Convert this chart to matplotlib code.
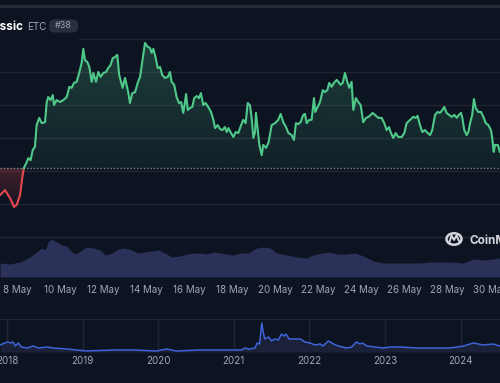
import matplotlib.pyplot as plt
import matplotlib.colors as mcolors
import numpy as np
from matplotlib.patches import PathPatch, Circle, FancyBboxPatch
from matplotlib.path import Path
from matplotlib.lines import Line2D

plt.rcParams['font.family'] = ['Inter', 'DejaVu Sans']

# ---- data: ETC price, 7-30 May (day of month, USD) ----
days = [7.19, 7.42, 7.65, 7.84, 7.96, 8.12, 8.24, 8.30, 8.43, 8.50, 8.61, 8.71, 8.81, 8.89, 9.01,
        9.13, 9.28, 9.36, 9.43, 9.54, 9.64, 9.70, 9.82, 9.98, 10.13, 10.29, 10.41, 10.52, 10.63, 10.75,
        10.87, 10.99, 11.06, 11.14, 11.25, 11.34, 11.45, 11.53, 11.65, 11.76, 11.87, 11.99, 12.12, 12.22,
        12.33, 12.43, 12.53, 12.64, 12.73, 12.89, 13.00,
        13.15, 13.23, 13.34, 13.47, 13.59, 13.70, 13.80, 13.93, 14.06, 14.16, 14.24, 14.32, 14.43, 14.52,
        14.63, 14.73, 14.86, 14.99, 15.09, 15.17, 15.29, 15.40, 15.51, 15.61, 15.71, 15.79, 15.84, 15.92,
        16.02, 16.13, 16.22, 16.34, 16.44, 16.53, 16.64, 16.75, 16.87, 17.00, 17.11, 17.19, 17.31, 17.42,
        17.53, 17.65, 17.73, 17.81, 17.93, 18.04, 18.15, 18.27, 18.40, 18.50, 18.61, 18.71,
        18.81, 18.89, 18.97, 19.05, 19.09, 19.15, 19.25, 19.36, 19.43, 19.56, 19.67, 19.74, 19.82, 19.98,
        20.13, 20.24, 20.36, 20.49, 20.60, 20.75, 20.86, 20.95, 21.06, 21.17, 21.29, 21.37, 21.45, 21.57,
        21.68, 21.79, 21.85, 21.94, 22.07, 22.20, 22.30, 22.41, 22.50, 22.61, 22.72, 22.85, 22.92, 23.03,
        23.13, 23.23, 23.34, 23.43, 23.54, 23.62, 23.74, 23.85, 23.96, 24.08, 24.21, 24.32, 24.43, 24.52,
        24.63,
        24.78, 24.94, 25.06, 25.17, 25.28, 25.37, 25.48, 25.59, 25.71, 25.87, 25.99, 26.10, 26.26, 26.41,
        26.52, 26.61, 26.72, 26.83, 26.95, 27.08, 27.19, 27.29, 27.42, 27.54, 27.65, 27.76, 27.85, 27.96,
        28.07, 28.20, 28.32, 28.43, 28.53, 28.63, 28.69, 28.78, 28.89, 28.97, 29.05, 29.15, 29.23, 29.31,
        29.43, 29.56, 29.67, 29.78, 29.90, 30.02, 30.08, 30.15, 30.21, 30.34, 30.44]
price = [25.27, 25.42, 25.18, 24.91, 24.97, 25.27, 25.88, 26.09, 26.27, 26.39, 26.33, 26.64, 26.73, 27.39, 27.61,
         27.45, 27.48, 28.09, 28.24, 28.15, 28.30, 28.00, 28.15, 28.09, 28.15, 28.24, 28.55, 28.52, 28.67, 28.70,
         28.97, 29.30, 29.70, 29.36, 29.30, 29.15, 28.70, 28.97, 28.70, 29.00, 28.85, 28.97, 29.00, 29.12,
         29.21, 29.42, 29.45, 29.52, 28.91, 28.52, 28.82,
         28.39, 28.06, 28.36, 28.39, 28.67, 28.85, 29.30, 29.88, 29.76, 29.73, 29.58, 29.70, 29.42, 29.12,
         29.15, 28.91, 28.82, 28.85, 29.00, 28.70, 28.61, 28.24, 28.06, 28.09, 27.76, 28.09, 28.33, 27.85,
         27.91, 27.94, 28.21, 28.27, 28.21, 28.36, 28.00, 28.06, 27.94, 27.79, 27.55, 27.30, 27.39, 27.27,
         27.24, 27.33, 27.18, 27.30, 27.15, 27.03, 27.18, 27.15, 27.39, 27.55, 27.45, 28.06,
         28.00, 27.61, 27.00, 27.18, 27.76, 27.39, 26.79, 26.48, 26.79, 26.70, 26.85, 27.09, 27.39, 27.45,
         27.55, 27.73, 27.48, 27.33, 27.15, 27.09, 26.94, 27.45, 27.42, 27.48, 27.70, 27.73, 27.45, 27.55,
         27.55, 28.21, 27.79, 27.91, 28.09, 28.45, 28.39, 28.45, 28.67, 28.55, 28.67, 28.76, 28.70, 28.61,
         28.67, 28.97, 28.70, 28.52, 28.70, 27.85, 28.21, 28.09, 28.00, 27.48, 27.61, 27.64, 27.70, 27.76,
         27.70,
         27.61, 27.61, 27.45, 27.24, 27.33, 27.15, 27.00, 27.15, 27.03, 27.03, 27.15, 27.45, 27.55, 27.64,
         27.61, 27.67, 27.39, 27.18, 27.24, 27.15, 27.09, 27.24, 27.70, 27.79, 27.76, 27.85, 27.94, 27.76,
         27.70, 27.64, 27.70, 27.61, 27.70, 27.76, 27.61, 27.24, 27.09, 27.18, 27.45, 27.70, 28.18, 27.91,
         27.79, 27.79, 27.64, 27.45, 27.39, 27.24, 27.00, 26.58, 26.79, 26.79, 26.58]
open_price = 26.09

# volume (million USD)
vol_days = [7.19, 7.65, 8.12, 8.58, 8.89, 9.13, 9.28, 9.43, 9.59, 9.82, 10.06, 10.29, 10.52, 10.75, 10.99,
            11.22, 11.53, 11.84, 12.07, 12.38, 12.69, 13.00, 13.31, 13.62, 13.93, 14.24, 14.55, 14.86, 15.17,
            15.56, 15.87, 16.18, 16.49, 16.80, 17.11, 17.42, 17.73, 18.04, 18.35, 18.74, 18.81, 19.13, 19.43,
            19.74, 20.06, 20.52, 20.99, 21.45, 21.76, 22.15, 22.53, 22.85, 23.31, 23.70, 24.08, 24.55, 25.01,
            25.64, 26.26, 26.72, 27.19, 27.65, 28.12, 28.74, 29.20, 29.67, 30.13, 30.44]
volume = [140, 130, 150, 200, 250, 290, 270, 350, 380, 350, 320, 310, 250, 230, 270,
          300, 290, 270, 220, 240, 280, 290, 270, 240, 250, 260, 270, 240, 200,
          210, 230, 240, 240, 230, 250, 240, 230, 220, 240, 240, 250, 290, 300,
          290, 240, 220, 200, 190, 220, 240, 250, 230, 230, 240, 210, 160, 140,
          140, 140, 140, 150, 150, 150, 140, 180, 170, 180, 190]

day_ticks = [8, 10, 12, 14, 16, 18, 20, 22, 24, 26, 28, 30]
day_labels = ['8 May', '10 May', '12 May', '14 May', '16 May', '18 May', '20 May',
              '22 May', '24 May', '26 May', '28 May', '30 May']

# full history navigator (year, USD)
hist_year = [2017.91, 2017.97, 2018.01, 2018.05, 2018.08, 2018.11, 2018.15, 2018.19, 2018.26, 2018.35,
             2018.41, 2018.53, 2018.61, 2018.79, 2018.92, 2019.05, 2019.41, 2019.67, 2019.98, 2020.11,
             2020.24, 2020.55, 2020.99, 2021.10, 2021.15, 2021.19,
             2021.21, 2021.28, 2021.31, 2021.34, 2021.37, 2021.39, 2021.41, 2021.46, 2021.50, 2021.54,
             2021.59, 2021.63, 2021.66, 2021.69, 2021.73, 2021.81, 2021.88, 2021.94, 2022.01, 2022.07,
             2022.14, 2022.18, 2022.25, 2022.32, 2022.38, 2022.49, 2022.56, 2022.62, 2022.67, 2022.70,
             2022.76, 2022.87, 2022.98, 2023.07, 2023.20, 2023.42, 2023.64, 2023.86, 2024.04, 2024.17,
             2024.30, 2024.43, 2024.52]
hist_price = [31.5, 40.5, 45, 40.5, 45, 27, 40.5, 22.5, 18, 27,
              18, 22.5, 18, 13.5, 9, 4.5, 9, 9, 4.5, 13.5,
              4.5, 9, 9, 9, 18, 13.5,
              13.5, 18, 40.5, 36, 130.5, 85.5, 58.5, 67.5, 49.5, 58.5,
              54, 81, 72, 81, 58.5, 58.5, 58.5, 45, 40.5, 31.5,
              36, 27, 49.5, 36, 27, 18, 22.5, 45, 36, 40.5,
              27, 22.5, 18, 22.5, 22.5, 18, 18, 18, 27, 40.5,
              31.5, 36, 27]
years = [2018, 2019, 2020, 2021, 2022, 2023, 2024]

# ---- style ----
BG = '#0d1421'
GRID = '#222531'
TEXT = '#a1a7bb'
GREEN = '#4fc98a'
RED = '#e5484d'
W, H = 500, 383


def fy(y):
    return 1 - y / H


def grad_fill(ax, x, y, base, color, bottom, top, a_bot, a_top):
    img = np.zeros((100, 1, 4))
    img[:, 0, :3] = mcolors.to_rgb(color)
    img[:, 0, 3] = np.linspace(a_bot, a_top, 100)
    im = ax.imshow(img, aspect='auto', origin='lower', zorder=2,
                   extent=[x[0], x[-1], bottom, top])
    verts = np.vstack([np.column_stack([x, y]), [[x[-1], base], [x[0], base]]])
    patch = PathPatch(Path(verts), facecolor='none', edgecolor='none')
    ax.add_patch(patch)
    im.set_clip_path(patch)


fig = plt.figure(figsize=(5, 3.83), dpi=100, facecolor=BG)
pos = [0, fy(277), 1, (277 - 35) / H]

axv = fig.add_axes(pos)
axv.set_facecolor('none')
axv.fill_between(vol_days, volume, color='#2b3158', lw=0)
axv.set_xlim(7.186, 30.442)
axv.set_ylim(0, 2420)
axv.axis('off')

ax = fig.add_axes(pos)
ax.set_facecolor('none')
for s in ax.spines.values():
    s.set_visible(False)
for p in [24, 25, 26, 27, 28, 29, 30]:
    ax.axhline(p, color=GRID, lw=1, xmin=81 / W if p == 30 else 0, zorder=0)
ax.axhline(open_price, color='#80858f', lw=1, ls=(0, (1, 1.4)), zorder=3)

d = np.array(days)
pr = np.array(price)
k = days.index(8.30)
grad_fill(ax, d[:k + 1], pr[:k + 1], open_price, RED, pr[:k + 1].min(), open_price, 0.05, 0.24)
grad_fill(ax, d[k:], pr[k:], open_price, GREEN, open_price, pr[k:].max(), 0.07, 0.24)
ax.plot(d[:k + 1], pr[:k + 1], color=RED, lw=1.5, zorder=4, solid_joinstyle='round')
ax.plot(d[k:], pr[k:], color=GREEN, lw=1.5, zorder=4, solid_joinstyle='round')

ax.set_xlim(7.186, 30.442)
ax.set_ylim(22.788, 30.121)
ax.set_yticks([])
ax.set_xticks(day_ticks)
ax.set_xticklabels(day_labels)
ax.tick_params(axis='x', length=0, pad=5.5, labelsize=7, labelcolor=TEXT)

# navigator
axn = fig.add_axes([0, fy(352), 1, 33 / H])
axn.set_facecolor('none')
for s in axn.spines.values():
    s.set_visible(False)
axn.axhline(148.5, color=GRID, lw=1.5)
for yr in years:
    axn.axvline(yr, color=GRID, lw=1, zorder=0)
axn.fill_between(hist_year, hist_price, color='#1b2138', lw=0, zorder=1)
axn.plot(hist_year, hist_price, color='#3e63da', lw=1.1, zorder=2)
axn.set_xlim(2017.907, 2024.521)
axn.set_ylim(0, 148.5)
axn.set_yticks([])
axn.set_xticks(years)
axn.set_xticklabels([str(y) for y in years])
axn.tick_params(axis='x', length=0, pad=3, labelsize=7, labelcolor=TEXT)

# header
fig.add_artist(Line2D([0, 1], [fy(5.5), fy(5.5)], color='#2a2f3b', lw=2))
fig.text(23 / W, fy(29.5), 'Ethereum Classic', color='white', fontsize=8.5,
         fontweight='bold', ha='right', va='baseline')
fig.text(27 / W, fy(29.5), 'ETC', color=TEXT, fontsize=7, ha='left', va='baseline')
fig.add_artist(FancyBboxPatch((51 / W, fy(31)), 25 / W, 10 / H,
                              boxstyle='round,pad=0.004,rounding_size=0.012',
                              facecolor='#2a2f3d', edgecolor='none', transform=fig.transFigure))
fig.text(63.5 / W, fy(25.5), '#38', color='#9aa0b0', fontsize=6.5, ha='center', va='center')

# watermark
wm = '#d4d6dc'
fig.add_artist(Circle((454 / W, fy(239)), 7.5 / W, transform=fig.transFigure,
                      facecolor='none', edgecolor=wm, lw=1.8))
fig.add_artist(Line2D([449.5 / W, 451.5 / W, 454 / W, 456.5 / W, 459 / W],
                      [fy(242), fy(235.5), fy(240), fy(235.5), fy(241)], color=wm, lw=1.4))
fig.text(470 / W, fy(244), 'CoinMarketCap', color=wm, fontsize=8.5, fontweight='bold',
         ha='left', va='baseline')

fig.savefig('out.png', dpi=100, facecolor=BG)
